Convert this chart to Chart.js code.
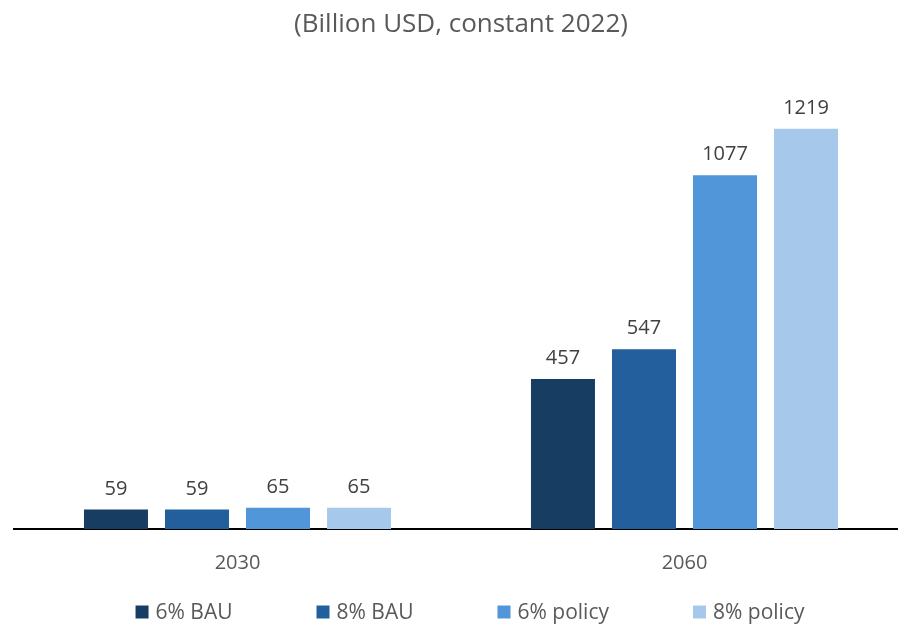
<!DOCTYPE html>
<html>
<head>
<meta charset="utf-8">
<script src="https://cdn.jsdelivr.net/npm/chart.js@4.4.0/dist/chart.umd.min.js"></script>
<style>
  html, body { margin: 0; padding: 0; background: #ffffff; overflow: hidden; }
  #wrap { width: 908px; height: 627px; }
</style>
</head>
<body>
<div id="wrap"><canvas id="c" width="908" height="627"></canvas></div>
<script>
const categories = ["2030", "2060"];
const seriesNames = ["6% BAU", "8% BAU", "6% policy", "8% policy"];
const bau6 = [59, 457];
const bau8 = [59, 547];
const policy6 = [65, 1077];
const policy8 = [65, 1219];
const titleText = "(Billion USD, constant 2022)";

const colors = ["#183D63", "#225F9C", "#5096D8", "#A6C9EB"];
const FONT = "'Open Sans', 'DejaVu Sans', sans-serif";

const valueLabels = {
  id: 'valueLabels',
  afterDatasetsDraw(chart) {
    const ctx = chart.ctx;
    ctx.save();
    ctx.font = "20px " + FONT;
    ctx.fillStyle = "#404040";
    ctx.textAlign = "center";
    ctx.textBaseline = "alphabetic";
    chart.data.datasets.forEach((ds, i) => {
      const meta = chart.getDatasetMeta(i);
      meta.data.forEach((bar, j) => {
        ctx.fillText(String(ds.data[j]), bar.x, bar.y - 15);
      });
    });
    ctx.restore();
  }
};

const bottomLegend = {
  id: 'bottomLegend',
  afterDraw(chart) {
    const ctx = chart.ctx;
    ctx.save();
    ctx.font = "21px " + FONT;
    ctx.textBaseline = "middle";
    ctx.textAlign = "left";
    const box = 13, gap = 7, spacing = 84;
    const items = chart.data.datasets.map(ds => ({
      label: ds.label, color: ds.backgroundColor,
      w: box + gap + ctx.measureText(ds.label).width
    }));
    const total = items.reduce((s, it) => s + it.w, 0) + spacing * (items.length - 1);
    let x = 470 - total / 2;
    const y = 612;
    items.forEach(it => {
      ctx.fillStyle = it.color;
      ctx.fillRect(x, y - box / 2, box, box);
      ctx.fillStyle = "#595959";
      ctx.fillText(it.label, x + box + gap, y + 1);
      x += it.w + spacing;
    });
    ctx.restore();
  }
};

const seriesData = [bau6, bau8, policy6, policy8];

new Chart(document.getElementById('c'), {
  type: 'bar',
  data: {
    labels: categories,
    datasets: seriesNames.map((name, i) => ({
      label: name,
      data: seriesData[i],
      backgroundColor: colors[i],
      borderWidth: 0,
      categoryPercentage: 0.725,
      barPercentage: 0.79
    }))
  },
  options: {
    responsive: false,
    animation: false,
    devicePixelRatio: 1,
    layout: { padding: { left: 14, right: 0, top: 0, bottom: 30 } },
    plugins: {
      legend: { display: false },
      tooltip: { enabled: false },
      title: {
        display: true,
        text: titleText,
        color: "#595959",
        font: { family: FONT, size: 26, weight: 'normal' },
        padding: { top: 9, bottom: 29 }
      }
    },
    scales: {
      x: {
        grid: { display: false, drawTicks: false },
        border: { display: true, color: "#000000", width: 2 },
        ticks: { color: "#595959", font: { family: FONT, size: 20 }, padding: 22 }
      },
      y: {
        display: false,
        min: 0,
        max: 1400
      }
    }
  },
  plugins: [valueLabels, bottomLegend]
});
</script>
</body>
</html>
